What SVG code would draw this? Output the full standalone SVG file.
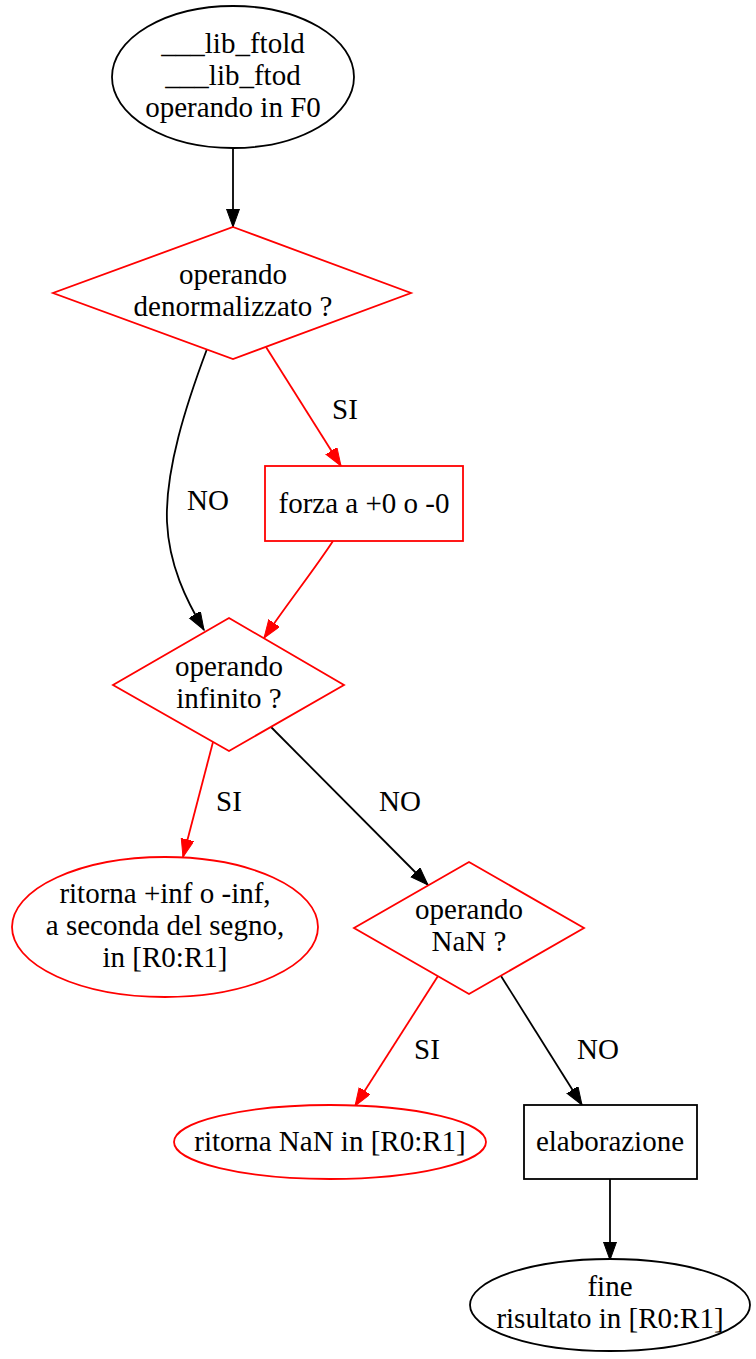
<svg xmlns="http://www.w3.org/2000/svg" width="756" height="1359" viewBox="0 0 756 1359">
<style>
text{font-family:"Liberation Serif","Times New Roman",serif;font-size:29px;fill:#000;text-anchor:middle}
.nb{fill:#fff;stroke:#000;stroke-width:1.8}
.nr{fill:#fff;stroke:#f00;stroke-width:1.8}
.eb{fill:none;stroke:#000;stroke-width:1.8}
.er{fill:none;stroke:#f00;stroke-width:1.8}
</style>
<defs>
<marker id="ab" markerUnits="userSpaceOnUse" markerWidth="20" markerHeight="15" refX="18" refY="6.5" orient="auto"><path d="M0,0 L18,6.5 L0,13 Z" fill="#000" stroke="#000" stroke-width="1"/></marker>
<marker id="ar" markerUnits="userSpaceOnUse" markerWidth="20" markerHeight="15" refX="18" refY="6.5" orient="auto"><path d="M0,0 L18,6.5 L0,13 Z" fill="#f00" stroke="#f00" stroke-width="1"/></marker>
</defs>
<rect width="756" height="1359" fill="#fff"/>
<g id="connectors">
<path class="eb" d="M233,148 L233,227" marker-end="url(#ab)"/>
<path class="eb" d="M207,349 C186,405 165,470 167,522 C169,565 186,600 204,630" marker-end="url(#ab)"/>
<path class="er" d="M266,347 L341,466" marker-end="url(#ar)"/>
<path class="er" d="M333,541 C314,570 290,600 264,638" marker-end="url(#ar)"/>
<path class="er" d="M213,742 L183,857" marker-end="url(#ar)"/>
<path class="eb" d="M271,727 L428,885" marker-end="url(#ab)"/>
<path class="er" d="M438,976 L355,1106" marker-end="url(#ar)"/>
<path class="eb" d="M501,976 L582,1105" marker-end="url(#ab)"/>
<path class="eb" d="M610,1179 L610,1260" marker-end="url(#ab)"/>
<text x="345" y="419">SI</text>
<text x="208" y="510">NO</text>
<text x="229" y="811">SI</text>
<text x="400" y="811">NO</text>
<text x="427" y="1059">SI</text>
<text x="598" y="1059">NO</text>
</g>
<g id="start">
<ellipse class="nb" cx="233" cy="77" rx="121" ry="71"/>
<text x="233" y="53">___lib_ftold</text>
<text x="233" y="85">___lib_ftod</text>
<text x="233" y="117">operando in F0</text>
</g>
<g id="denorm">
<polygon class="nr" points="233,227 411,293 233,359 53,293"/>
<text x="233" y="284">operando</text>
<text x="233" y="316">denormalizzato ?</text>
</g>
<g id="forza">
<rect class="nr" x="265" y="466" width="198" height="75"/>
<text x="364" y="513">forza a +0 o -0</text>
</g>
<g id="infinito">
<polygon class="nr" points="229,618 344,685 229,751 113,685"/>
<text x="229" y="676">operando</text>
<text x="229" y="708">infinito ?</text>
</g>
<g id="ritornainf">
<ellipse class="nr" cx="165" cy="927" rx="153" ry="70"/>
<text x="165" y="903">ritorna +inf o -inf,</text>
<text x="165" y="935">a seconda del segno,</text>
<text x="165" y="967">in [R0:R1]</text>
</g>
<g id="nan">
<polygon class="nr" points="469,862 584,928 469,994 354,928"/>
<text x="469" y="919">operando</text>
<text x="469" y="951">NaN ?</text>
</g>
<g id="ritornanan">
<ellipse class="nr" cx="330" cy="1142" rx="156" ry="37"/>
<text x="330" y="1151">ritorna NaN in [R0:R1]</text>
</g>
<g id="elaborazione">
<rect class="nb" x="524" y="1105" width="173" height="74"/>
<text x="610" y="1151">elaborazione</text>
</g>
<g id="fine">
<ellipse class="nb" cx="610" cy="1305" rx="140" ry="46"/>
<text x="610" y="1296">fine</text>
<text x="610" y="1328">risultato in [R0:R1]</text>
</g>
</svg>
